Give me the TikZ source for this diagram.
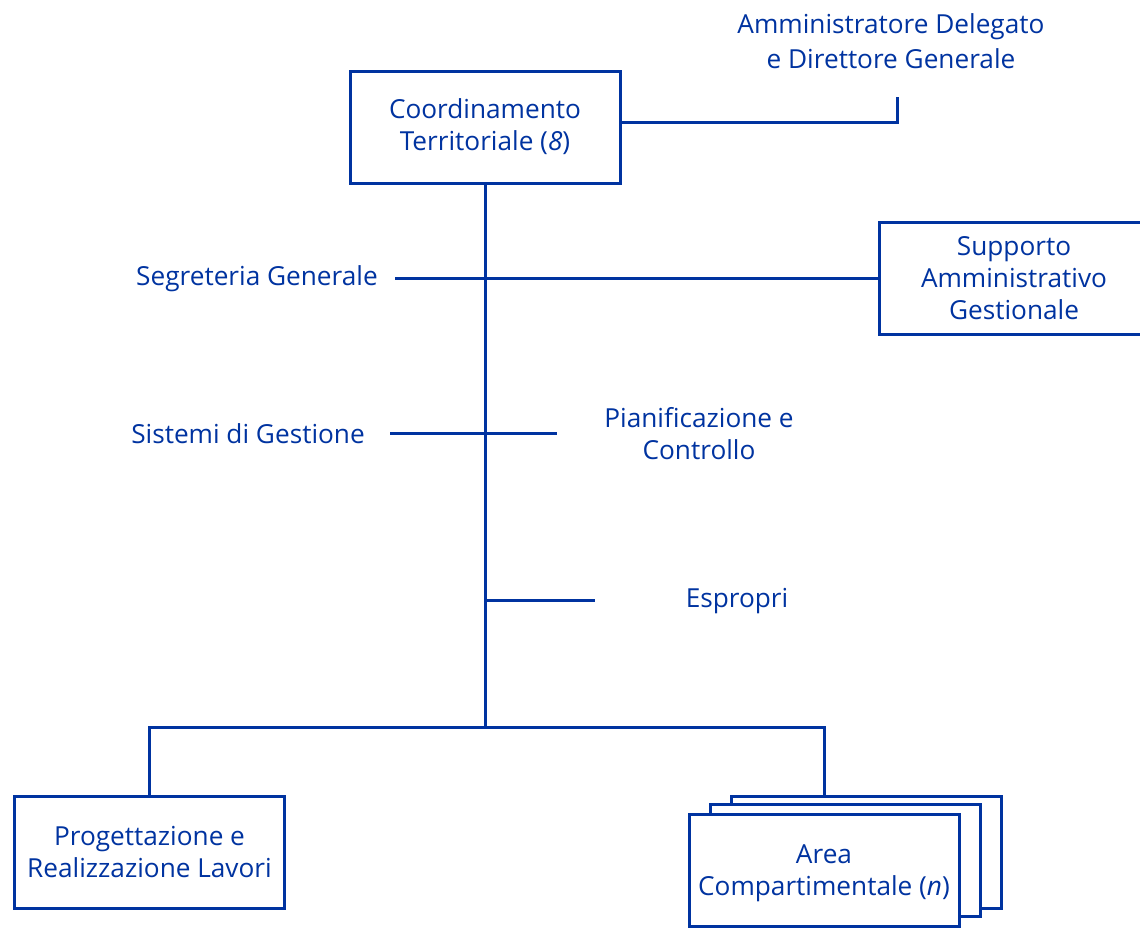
\documentclass[tikz,border=0pt]{standalone}
\usepackage{fontspec}
\setmainfont{Open Sans}
\usetikzlibrary{positioning,calc}
\definecolor{orgblue}{RGB}{0,51,160}
\newcommand{\orgfont}{\fontsize{13.1}{16}\selectfont}
\tikzset{
  orgbox/.style={draw=orgblue, line width=1.5pt, fill=white, align=center, text=orgblue,
    minimum width=135pt, minimum height=56pt, inner sep=0pt, font=\orgfont},
  orglabel/.style={text=orgblue, align=center, inner sep=0pt, font=\orgfont},
  orgline/.style={draw=orgblue, line width=1.5pt},
}

\begin{document}
\begin{tikzpicture}[x=0.5pt, y=-0.5pt]
  \useasboundingbox (0,0) rectangle (1140,927);
  \clip (0,0) rectangle (1140,927);
  % vertice
  \node[orglabel, font=\fontsize{13.1}{17.5}\selectfont] (ad) at (891,41) {Amministratore Delegato\\e Direttore Generale};
  \node[orgbox] (ct) at (485,127) {Coordinamento\\Territoriale (\textit{8})};
  \coordinate (adend) at (897,97);
  \coordinate (hub) at (485,727);
  \draw[orgline] ([yshift=2.5pt]ct.east) -| (adend);
  \draw[orgline] (ct.south) -- (hub);
  % staff
  \node[orglabel] (sg) at (257,279) {Segreteria Generale};
  \node[orgbox] (sa) at (1014,278) {Supporto\\Amministrativo\\Gestionale};
  \node[orglabel] (sd) at (248,434) {Sistemi di Gestione};
  \node[orglabel] (pc) at (699,434) {Pianificazione e\\Controllo};
  \node[orglabel] (es) at (737,601) {Espropri};
  \coordinate (sgend) at (395,278);
  \coordinate (sdl) at (390,433);
  \coordinate (sdr) at (557,433);
  \coordinate (esend) at (595,600);
  \draw[orgline] (sgend) -- (sa.west);
  \draw[orgline] (sdl) -- (sdr);
  \draw[orgline] (hub |- esend) -- (esend);
  % linea
  \node[orgbox] (pr) at (149.5,852) {Progettazione e\\Realizzazione Lavori};
  \node[orgbox] (ac3) at (866,852) {};
  \node[orgbox] (ac2) at (845,860) {};
  \node[orgbox, text depth=0pt] (ac) at (824,870) {\raisebox{-2.5pt}{}Area\\Compartimentale (\textit{n})};
  \draw[orgline] (pr.north) |- (hub) -| (ac.north |- ac3.north);
\end{tikzpicture}
\end{document}
